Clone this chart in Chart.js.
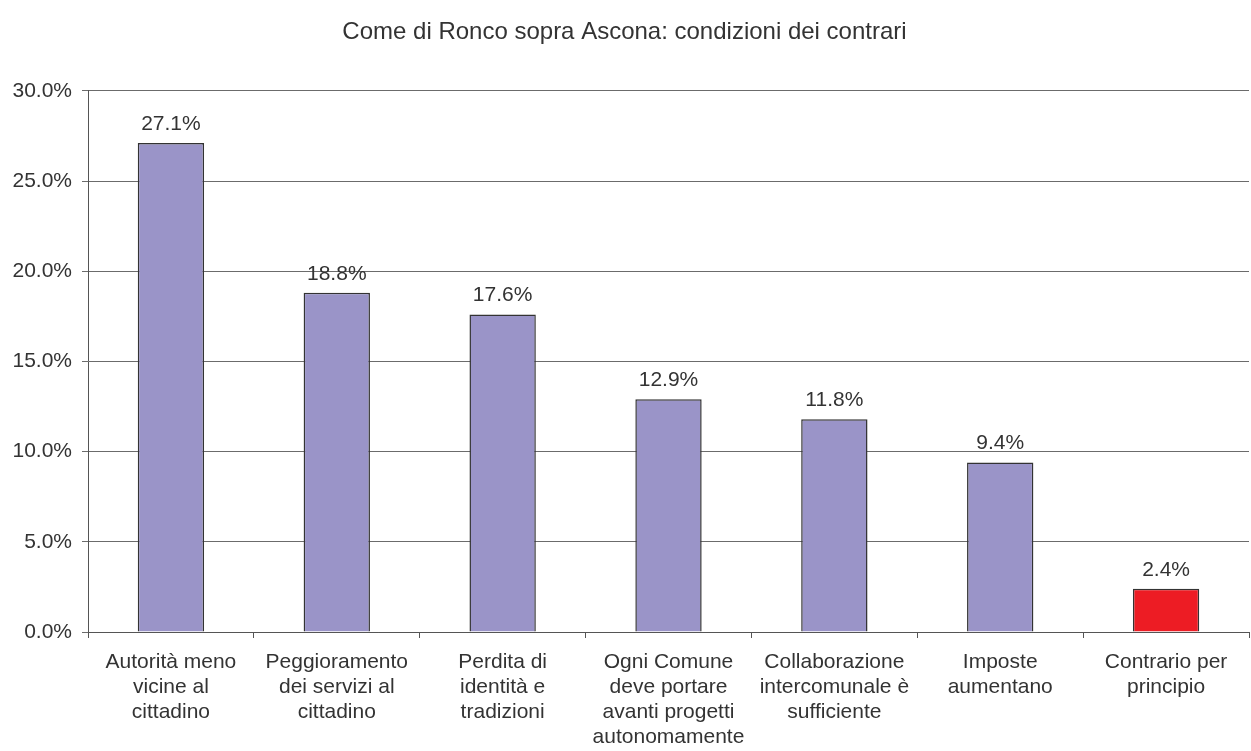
<!DOCTYPE html>
<html>
<head>
<meta charset="utf-8">
<script src="https://cdn.jsdelivr.net/npm/chart.js@4"></script>
<style>
    html, body { margin: 0; padding: 0; background: #fff; }
    #wrap { width: 1251px; height: 751px; }
</style>
</head>
<body>
<div id="wrap"><canvas id="graph1"></canvas></div>
<script>
const chartTitle = 'Come di Ronco sopra Ascona: condizioni dei contrari';

const categories = [
    ['Autorità meno', 'vicine al', 'cittadino'],
    ['Peggioramento', 'dei servizi al', 'cittadino'],
    ['Perdita di', 'identità e', 'tradizioni'],
    ['Ogni Comune', 'deve portare', 'avanti progetti', 'autonomamente'],
    ['Collaborazione', 'intercomunale è', 'sufficiente'],
    ['Imposte', 'aumentano'],
    ['Contrario per', 'principio']
];
const percentages = [27.1, 18.8, 17.6, 12.9, 11.8, 9.4, 2.4];
const barColors = ['#9a94c8', '#9a94c8', '#9a94c8', '#9a94c8', '#9a94c8', '#9a94c8', '#ed1c24'];

const FONT = "'Liberation Sans', Arial, sans-serif";
const TEXT = '#333333';

// draws the value above each bar
const valueLabels = {
    id: 'valueLabels',
    afterDatasetsDraw(chart) {
        const ctx = chart.ctx;
        const meta = chart.getDatasetMeta(0);
        ctx.save();
        ctx.font = '21px ' + FONT;
        ctx.fillStyle = TEXT;
        ctx.textAlign = 'center';
        ctx.textBaseline = 'middle';
        meta.data.forEach((bar, i) => {
            ctx.fillText(percentages[i].toFixed(1) + '%', bar.x, bar.y - 19);
        });
        ctx.restore();
    }
};

document.addEventListener('DOMContentLoaded', () => {
    const canvas = document.getElementById('graph1');

    new Chart(canvas, {
        type: 'bar',
        data: {
            labels: categories,
            datasets: [{
                data: percentages,
                backgroundColor: barColors,
                borderColor: '#333333',
                borderWidth: 1.5,
                categoryPercentage: 1,
                barPercentage: 0.4
            }]
        },
        options: {
            responsive: true,
            maintainAspectRatio: false,
            animation: false,
            layout: { padding: { left: 0, right: 2, top: 0, bottom: 0 } },
            plugins: {
                legend: { display: false },
                tooltip: { enabled: false },
                title: {
                    display: true,
                    text: chartTitle,
                    color: TEXT,
                    font: { family: FONT, size: 24, weight: 'normal', lineHeight: 1.2 },
                    padding: { top: 18, bottom: 44 }
                }
            },
            scales: {
                x: {
                    grid: {
                        offset: true,
                        drawOnChartArea: false,
                        drawTicks: true,
                        tickLength: 6,
                        color: '#555555'
                    },
                    border: { color: '#555555', width: 1 },
                    ticks: {
                        color: TEXT,
                        padding: 12,
                        maxRotation: 0,
                        autoSkip: false,
                        font: { family: FONT, size: 21, lineHeight: '25px' }
                    },
                    afterFit: (scale) => { scale.height = 119; }
                },
                y: {
                    min: 0,
                    max: 30,
                    grid: { color: '#6b6b6b', tickLength: 6 },
                    border: { color: '#555555', width: 1 },
                    ticks: {
                        stepSize: 5,
                        color: TEXT,
                        padding: 10,
                        font: { family: FONT, size: 21 },
                        callback: (value) => value.toFixed(1) + '%'
                    },
                    afterFit: (scale) => { scale.width = 88; }
                }
            }
        },
        plugins: [valueLabels]
    });
});
</script>
</body>
</html>
